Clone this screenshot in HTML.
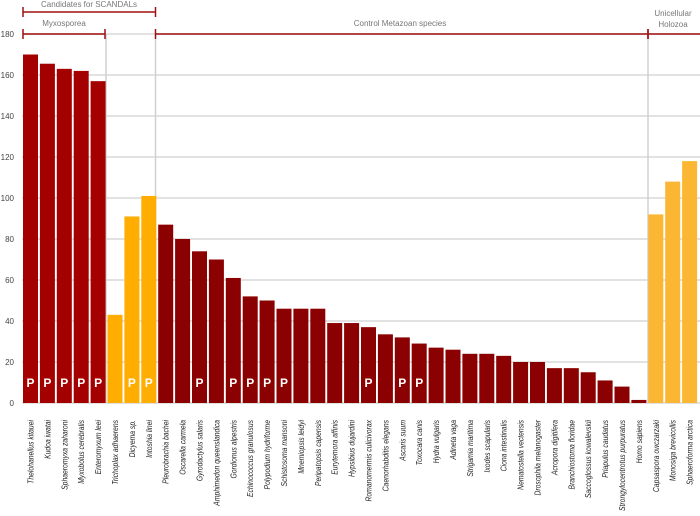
<!DOCTYPE html>
<html><head><meta charset="utf-8"><style>
html,body{margin:0;padding:0;background:#fff;width:700px;height:516px;overflow:hidden}
svg{display:block;font-family:"Liberation Sans",sans-serif}
</style></head><body>
<svg id="s" width="700" height="516" xmlns="http://www.w3.org/2000/svg"></svg>
<script>
var d=[["Thelohanellus kitauei",170,"m",1],["Kudoa iwatai",165.5,"m",1],["Sphaeromyxa zaharoni",163,"m",1],["Myxobolus cerebralis",162,"m",1],["Enteromyxum leei",157,"m",1],
["Trichoplax adhaerens",43,"o",0],["Dicyema sp.",91,"o",1],["Intoshia linei",101,"o",1],
["Pleurobrachia bachei",87,"c",0],["Oscarella carmela",80,"c",0],["Gyrodactylus salaris",74,"c",1],["Amphimedon queenslandica",70,"c",0],["Gordionus alpestris",61,"c",1],["Echinococcus granulosus",52,"c",1],["Polypodium hydriforme",50,"c",1],["Schistosoma mansoni",46,"c",1],["Mnemiopsis leidyi",46,"c",0],["Peripatopsis capensis",46,"c",0],["Eurytemora affinis",39,"c",0],["Hypsibius dujardini",39,"c",0],["Romanomermis culicivorax",37,"c",1],["Caenorhabditis elegans",33.5,"c",0],["Ascaris suum",32,"c",1],["Toxocara canis",29,"c",1],["Hydra vulgaris",27,"c",0],["Adineta vaga",26,"c",0],["Strigamia maritima",24,"c",0],["Ixodes scapularis",24,"c",0],["Ciona intestinalis",23,"c",0],["Nematostella vectensis",20,"c",0],["Drosophila melanogaster",20,"c",0],["Acropora digitifera",17,"c",0],["Branchiostoma floridae",17,"c",0],["Saccoglossus kowalevskii",15,"c",0],["Priapulus caudatus",11,"c",0],["Strongylocentrotus purpuratus",8,"c",0],["Homo sapiens",1.5,"c",0],
["Capsaspora owczarzaki",92,"h",0],["Monosiga brevicollis",108,"h",0],["Sphaeroforma arctica",118,"h",0]];
var col={m:"#a50000",o:"#ffad00",c:"#8b0000",h:"#fbb733"};
var y0=403,k=369/180,h="";
for(var v=0;v<=180;v+=20){var y=y0-v*k;h+='<line x1="22" x2="700" y1="'+y+'" y2="'+y+'" stroke="#d8d8d8" stroke-width="1.5"/>';
h+='<text x="14" y="'+(y+3)+'" font-size="8" fill="#444" text-anchor="end">'+v+'</text>';}
[106,155.5,648].forEach(function(x){h+='<line x1="'+x+'" x2="'+x+'" y1="34" y2="403" stroke="#d0d0d0" stroke-width="1.5"/>';});
d.forEach(function(b,i){var x=23+16.9*i,hh=b[1]*k;
h+='<rect x="'+x+'" y="'+(y0-hh)+'" width="15" height="'+hh+'" fill="'+col[b[2]]+'"/>';
var cx=x+7.5;
if(b[3])h+='<text x="'+cx+'" y="387" font-size="12" font-weight="bold" fill="#fff" text-anchor="middle">P</text>';
h+='<text transform="translate('+(cx+3)+',420) rotate(-90) scale(0.8,1)" font-size="8.5" font-style="italic" fill="#222" text-anchor="end">'+b[0]+'</text>';});
function br(x1,x2,y){return '<line x1="'+x1+'" x2="'+x2+'" y1="'+y+'" y2="'+y+'" stroke="#a01010" stroke-width="1.5"/><line x1="'+x1+'" x2="'+x1+'" y1="'+(y-5)+'" y2="'+(y+5)+'" stroke="#a01010" stroke-width="1.5"/><line x1="'+x2+'" x2="'+x2+'" y1="'+(y-5)+'" y2="'+(y+5)+'" stroke="#a01010" stroke-width="1.5"/>';}
h+=br(23,155.5,12)+br(23,105,34)+br(155.5,648,34)+'<line x1="648" x2="700" y1="34" y2="34" stroke="#a01010" stroke-width="1.5"/><line x1="648" x2="648" y1="29" y2="39" stroke="#a01010" stroke-width="1.5"/>';
var t='font-size="8" fill="#777" text-anchor="middle"';
h+='<text x="89" y="7" '+t+'>Candidates for SCANDALs</text><text x="64" y="26" '+t+'>Myxosporea</text><text x="400" y="26" '+t+'>Control Metazoan species</text><text x="673" y="16" '+t+'>Unicellular</text><text x="673" y="27" '+t+'>Holozoa</text>';
document.getElementById("s").innerHTML=h;
</script>
</body></html>
